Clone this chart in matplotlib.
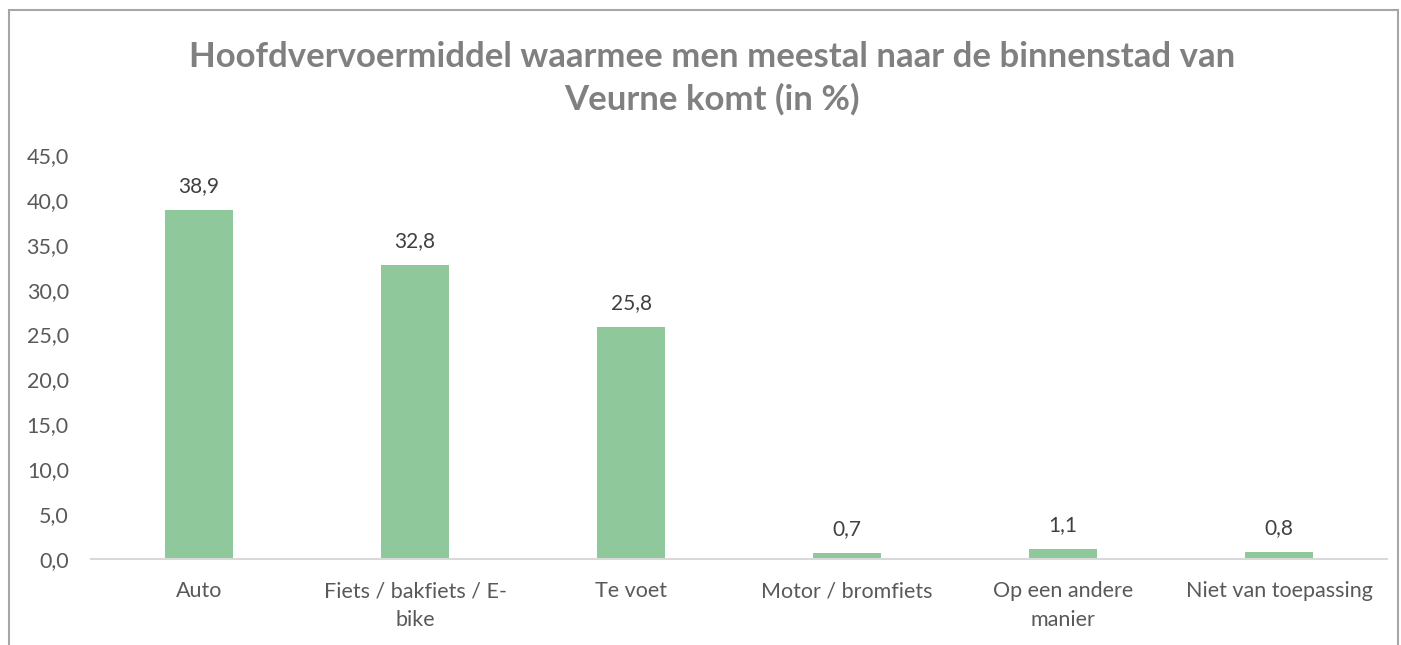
import matplotlib.pyplot as plt
from matplotlib.patches import Rectangle

plt.rcParams['font.family'] = ['Lato', 'DejaVu Sans']

categories = ['Auto', 'Fiets / bakfiets / E-\nbike', 'Te voet', 'Motor / bromfiets',
              'Op een andere\nmanier', 'Niet van toepassing']
values = [38.9, 32.8, 25.8, 0.7, 1.1, 0.8]
yticks = [0, 5, 10, 15, 20, 25, 30, 35, 40, 45]
title = 'Hoofdvervoermiddel waarmee men meestal naar de binnenstad van\nVeurne komt (in %)'

bar_color = '#8FC89A'
text_color = '#595959'


def fmt(v):
    return f'{v:.1f}'.replace('.', ',')


fig = plt.figure(figsize=(14.01, 6.45), dpi=100)
ax = fig.add_axes([0.065, 0.1333, 0.925, 0.6264])

x = list(range(len(categories)))
ax.bar(x, values, width=0.315, color=bar_color)
for xi, v in zip(x, values):
    ax.annotate(fmt(v), (xi, v), xytext=(0, 10), textcoords='offset points',
                ha='center', va='bottom', fontsize=15, color='#404040')

ax.set_xlim(-0.5, len(categories) - 0.5)
ax.set_ylim(0, 45)
ax.set_yticks(yticks)
ax.set_yticklabels([fmt(t) for t in yticks], fontsize=15.5, color=text_color)
ax.set_xticks(x)
ax.set_xticklabels(categories, fontsize=15.5, color=text_color, linespacing=1.55)
ax.tick_params(axis='both', length=0)
ax.tick_params(axis='y', pad=16)
ax.tick_params(axis='x', pad=16)

for s in ['top', 'right', 'left']:
    ax.spines[s].set_visible(False)
ax.spines['bottom'].set_color('#D9D9D9')
ax.spines['bottom'].set_linewidth(1.5)

fig.text(0.508, 0.878, title, ha='center', va='center', fontsize=25,
         fontweight='bold', color='#808080', linespacing=1.38)

# chart border
fig.add_artist(Rectangle((0.0064, -0.05), 0.9916, 1.0345, transform=fig.transFigure,
                         fill=False, edgecolor='#A6A6A6', linewidth=1.5))

fig.savefig('out.png', dpi=100)
